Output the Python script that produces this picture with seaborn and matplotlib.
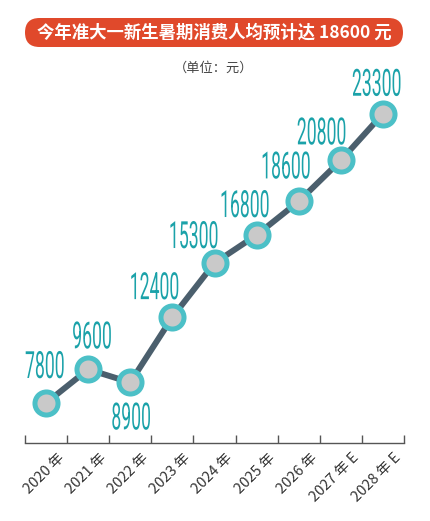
import numpy as np
import matplotlib
matplotlib.use("Agg")
import matplotlib.pyplot as plt
import matplotlib.patheffects as pe
from matplotlib.patches import FancyBboxPatch
from matplotlib.transforms import Affine2D, ScaledTranslation
import seaborn as sns

years = ["2020 年", "2021 年", "2022 年", "2023 年", "2024 年",
         "2025 年", "2026 年", "2027 年 E", "2028 年 E"]
spend = [7800, 9600, 8900, 12400, 15300, 16800, 18600, 20800, 23300]
title = "今年准大一新生暑期消费人均预计达 18600 元"
unit = "（单位：元）"

# label offsets from each point, in pixels (dx, dy of the baseline centre)
label_off = [(-1, 25), (4, 21), (1, -47), (-18, 18), (-21, 15),
             (-12, 18), (-13, 23), (-19, 16), (-6, 18)]

LINE = "#4b5f6d"
RING = "#4cc0c7"
FILL = "#c9c9c9"
TEAL = "#1ba2a9"
RED = "#e0492b"


class Narrow(pe.AbstractPathEffect):
    """squeeze glyphs horizontally around their centre (condensed look)"""
    def __init__(self, sx=0.5):
        super().__init__()
        self.sx = sx

    def draw_path(self, renderer, gc, tpath, affine, rgbFace=None):
        ext = tpath.get_extents()
        cx = (ext.x0 + ext.x1) / 2
        aff = Affine2D().translate(-cx, 0).scale(self.sx, 1).translate(cx, 0) + affine
        renderer.draw_path(gc, tpath, aff, rgbFace)


sns.set_theme(style="white")
plt.rcParams["font.family"] = ["Noto Sans CJK SC", "DejaVu Sans"]

fig = plt.figure(figsize=(4.30, 5.21), dpi=100)
fig.patch.set_facecolor("white")
ax = fig.add_axes([25 / 430, 1 - 443 / 521, 379 / 430, 361 / 521])

x = np.arange(len(years))
sns.lineplot(x=x, y=spend, ax=ax, color=LINE, linewidth=4.3,
             marker="o", markersize=16.6, markeredgewidth=3.6,
             markeredgecolor=RING, markerfacecolor=FILL, zorder=3)

for xi, v, (dx, dy) in zip(x, spend, label_off):
    ax.annotate(f"{v}", (xi, v), xytext=(dx, dy), textcoords="offset pixels",
                ha="center", va="baseline", fontsize=27, color=TEAL,
                family=["Roboto", "DejaVu Sans"],
                path_effects=[Narrow(0.47)])

ax.set_xlim(-0.5, len(years) - 0.5)
ax.set_ylim(5655, 25000)
ax.set_yticks([])
ax.set_ylabel("")
for s in ["left", "right", "top"]:
    ax.spines[s].set_visible(False)
ax.spines["bottom"].set_color("#555555")
ax.spines["bottom"].set_linewidth(1.0)

ax.set_xticks(x)
ax.set_xticklabels(years, rotation=45, ha="right", va="center",
                   rotation_mode="anchor", fontsize=10.5, color="#333333",
                   fontweight="light")
ax.set_xticks(np.arange(-0.5, len(years)), minor=True)
ax.tick_params(axis="x", which="major", length=0, pad=9)
ax.tick_params(axis="x", which="minor", direction="in", length=5.8,
               width=1, color="#555555", bottom=True)
shift = ScaledTranslation(16 / 100, 0, fig.dpi_scale_trans)
for lab in ax.get_xticklabels():
    lab.set_transform(lab.get_transform() + shift)

# title banner
banner = FancyBboxPatch((0.25, 5.21 - 0.47), 3.78, 0.29,
                        boxstyle="round,pad=0,rounding_size=0.145",
                        transform=fig.dpi_scale_trans, facecolor=RED,
                        edgecolor="none")
fig.add_artist(banner)
fig.text(214 / 430, 1 - 32.5 / 521, title, ha="center", va="center",
         fontsize=12.5, fontweight="bold", color="white")
fig.text(214 / 430, 1 - 68 / 521, unit, ha="center", va="center",
         fontsize=9.5, color="#444444")

fig.savefig("out.png", dpi=100, facecolor="white")
